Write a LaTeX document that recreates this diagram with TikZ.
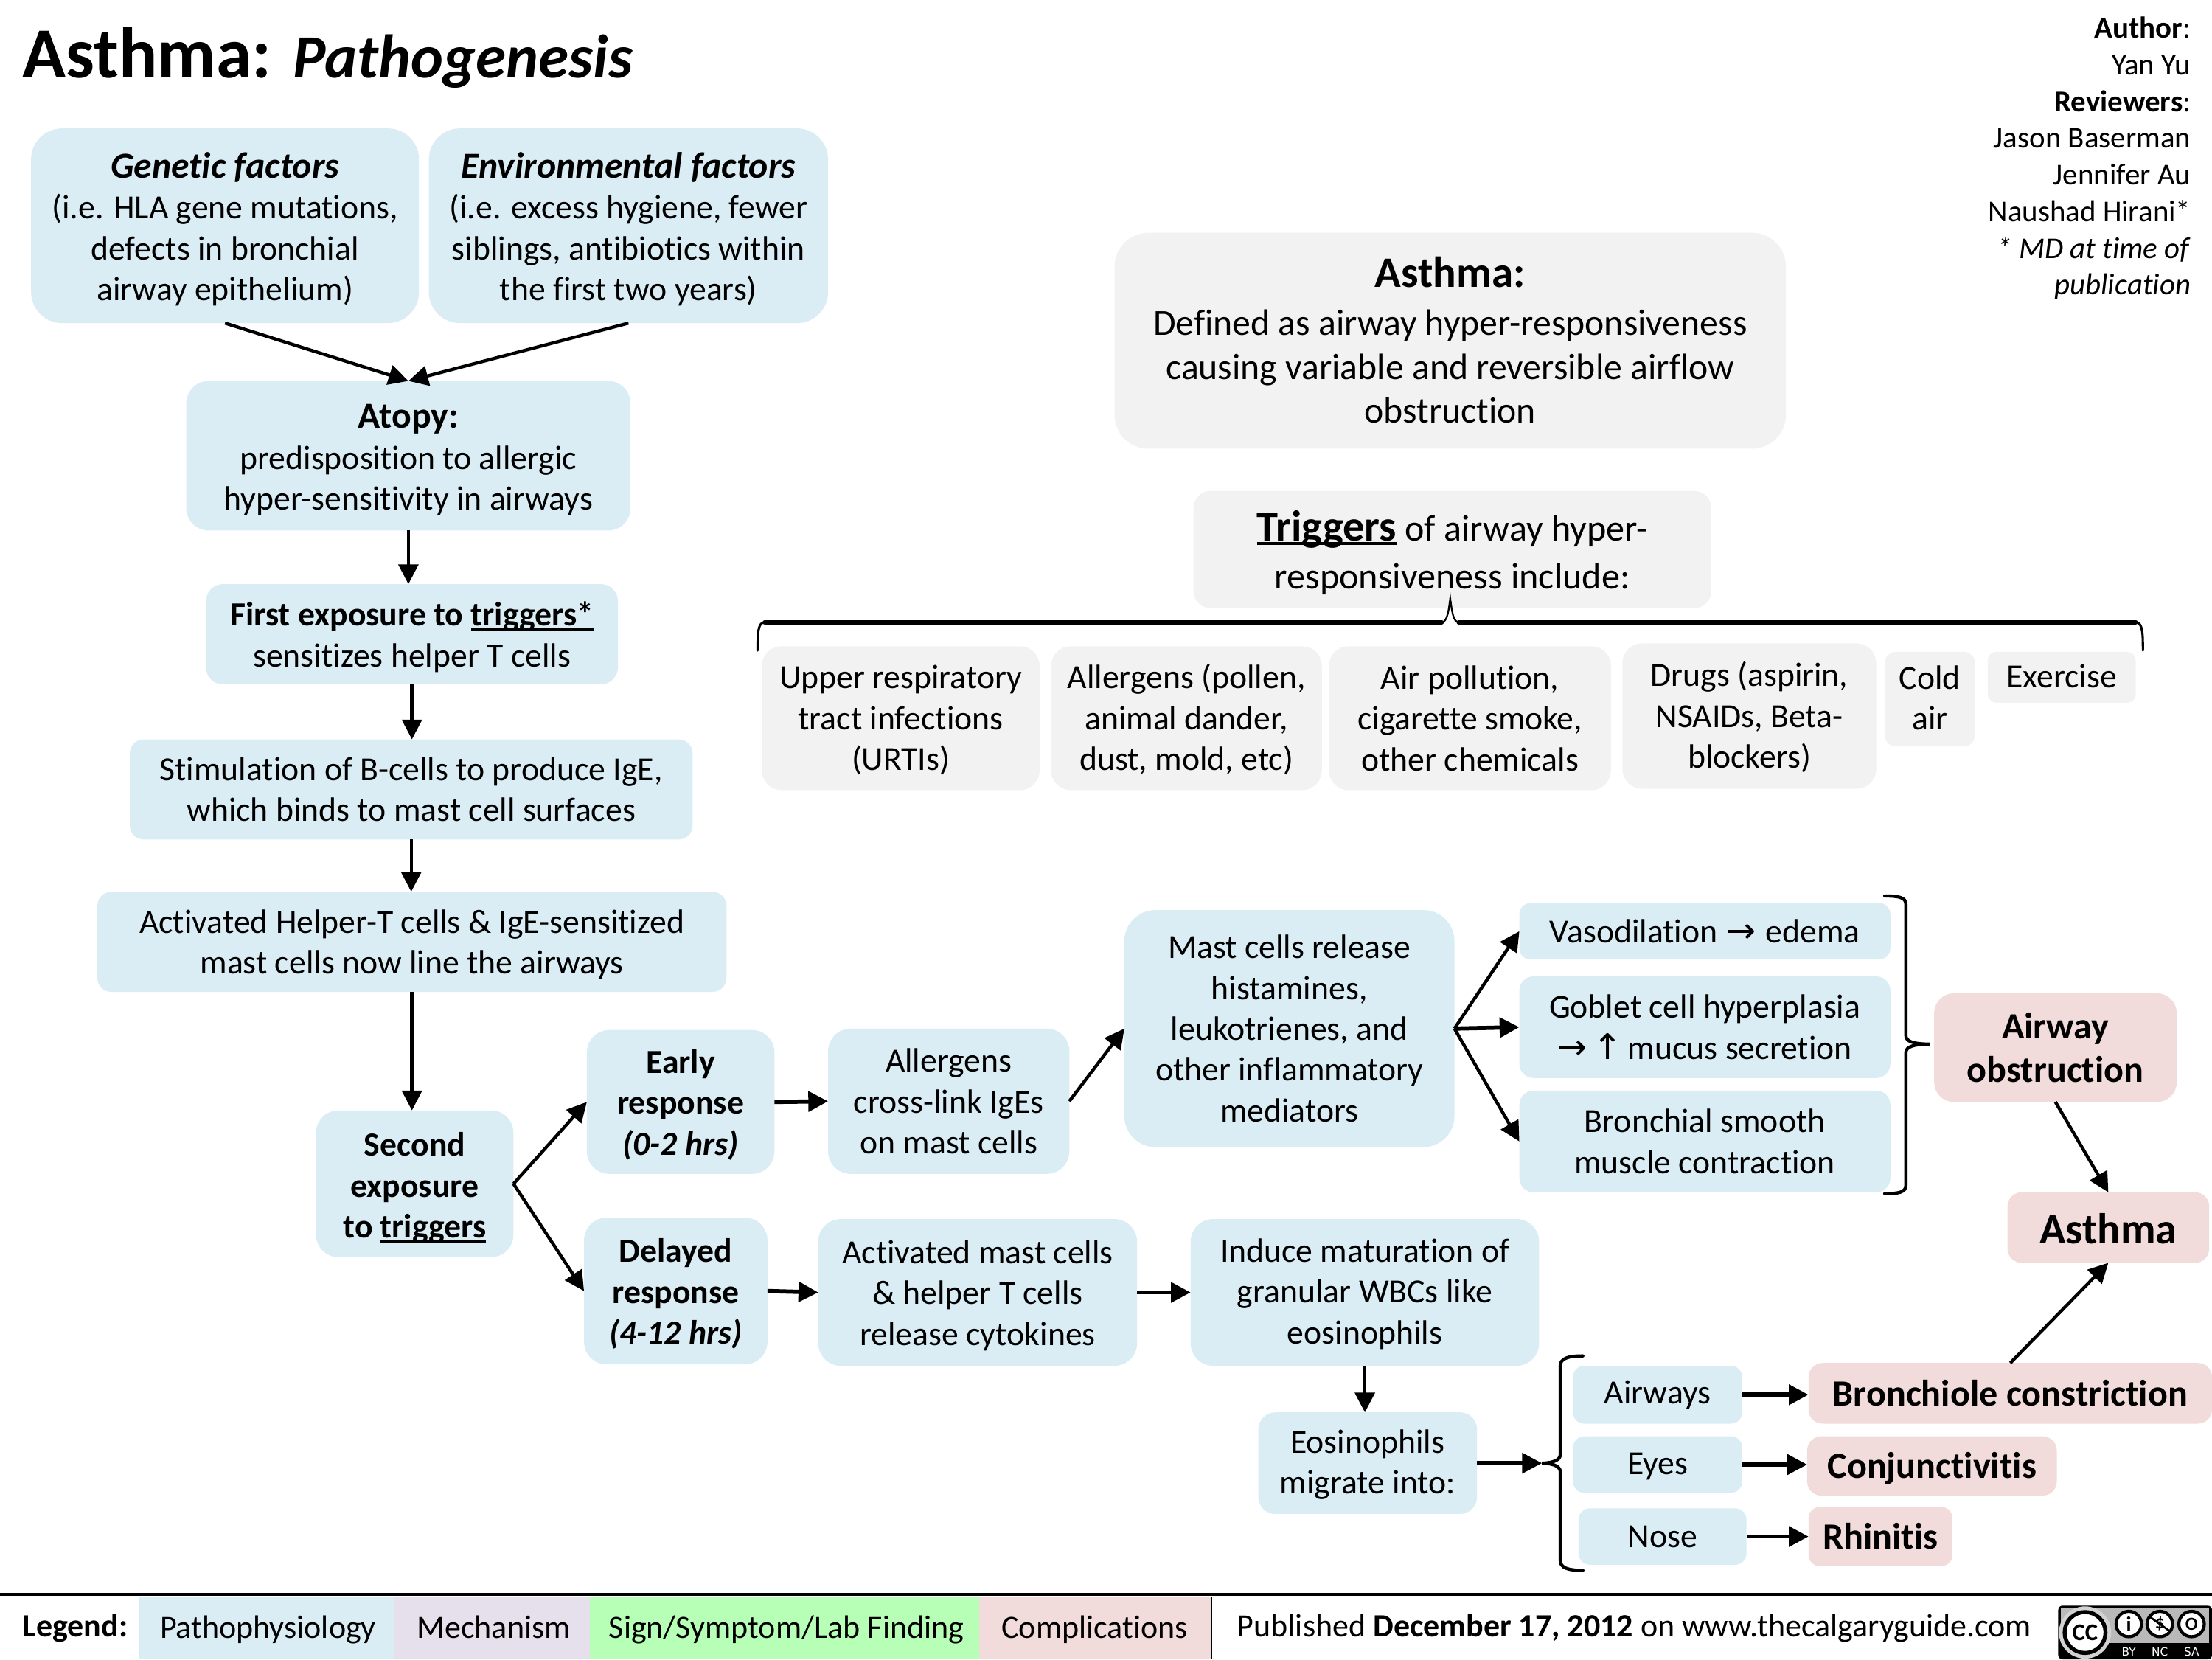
\documentclass[tikz,border=0pt]{standalone}
\usepackage{fontspec}
\setmainfont[Ligatures=NoCommon]{Carlito}
\newfontfamily\symfont{DejaVu Sans}
\usetikzlibrary{arrows.meta,calc}
\definecolor{cblue}{HTML}{DAEDF4}
\definecolor{cgrey}{HTML}{F2F2F2}
\definecolor{cred}{HTML}{F2DCDB}
\definecolor{cpurple}{HTML}{E6E0EC}
\definecolor{cgreen}{HTML}{B7FFB7}
\newcommand\fs[2]{\fontsize{#1}{#2}\selectfont}
\newcommand\myarrow{{\symfont\fontsize{25}{25}\selectfont →}}
\newcommand\myup{{\symfont\fontsize{25}{25}\selectfont ↑}}
\newcommand\ul[2][1.8pt]{{\setbox0\hbox{#2}\rlap{\rule[-3.2pt]{\wd0}{#1}}\box0}}
% optional #1 moves the text down inside its box
\newcommand\bx[8][0]{%
  \pgfmathsetmacro\bw{#6-#4}\pgfmathsetmacro\bh{#7-#5}%
  \node[#2,minimum width=\bw pt,minimum height=\bh pt] (#3) at (#4,#5) {};
  \node[#2,fill=none,anchor=center] (#3t) at ($(#3.center)+(0,#1)$) {#8};}
\tikzset{
  x=1pt,y=-1pt,
  boxbase/.style={anchor=north west,inner sep=0pt,outer sep=0pt,align=center,text=black,font=\fs{23.9}{29}},
  blue/.style={boxbase,fill=cblue,rounded corners=#1},
  blue/.default=16pt,
  grey/.style={boxbase,fill=cgrey,rounded corners=#1},
  grey/.default=14pt,
  redbox/.style={boxbase,fill=cred,rounded corners=#1,font=\fs{26.2}{31}\bfseries},
  redbox/.default=10pt,
  conn/.style={line width=2.3pt,draw=black,-{Triangle[length=14pt,width=14pt]}},
  connh/.style={conn,line width=3pt},
  brack/.style={line width=2.3pt,draw=black,line cap=round},
  plain/.style={inner sep=0pt,outer sep=0pt,text=black},
}
\begin{document}
\begin{tikzpicture}
\useasboundingbox (0,0) rectangle (1568,1176);
% Title and credits
\node[plain,anchor=base west] (title) at (16,55) {\fs{51}{55}\bfseries Asthma: \fs{43.6}{55}\itshape Pathogenesis};
\node[plain,anchor=north east,align=right,font=\fs{21.4}{26}] (credits) at (1553,12) {\textbf{Author}:\\Yan Yu\\\textbf{Reviewers}:\\Jason Baserman\\Jennifer Au\\Naushad Hirani*\\\textit{* MD at time of}\\\textit{publication}};
% Left column
\bx[2.5]{blue=22pt}{gen}{22}{91}{297}{229}{{\fs{26}{29}\bfseries\itshape Genetic factors}\\(i.e. HLA gene mutations,\\defects in bronchial\\airway epithelium)}
\bx[2.5]{blue=22pt}{env}{304}{91}{587}{229}{{\fs{26}{29}\bfseries\itshape Environmental factors}\\(i.e. excess hygiene, fewer\\siblings, antibiotics within\\the first two years)}
\bx[3]{blue}{atopy}{132}{270}{447}{376}{{\fs{26}{29}\bfseries Atopy:}\\predisposition to allergic\\hyper-sensitivity in airways}
\bx[2]{blue=12pt}{first}{146}{414}{438}{485}{\textbf{First exposure to \ul{triggers*}}\\sensitizes helper T cells}
\bx{blue=10pt}{stim}{92}{524}{491}{595}{Stimulation of B-cells to produce IgE,\\which binds to mast cell surfaces}
\bx[2]{blue=10pt}{activ}{69}{632}{515}{703}{Activated Helper-T cells \& IgE-sensitized\\mast cells now line the airways}
\bx[3]{blue}{second}{224}{787}{364}{891}{\textbf{Second}\\\textbf{exposure}\\\textbf{to \ul{triggers}}}
\bx[2]{blue}{early}{416}{730}{549}{832}{\textbf{Early}\\\textbf{response}\\\textbf{\textit{(0-2 hrs)}}}
\bx[2]{blue}{delayed}{414}{863}{544}{967}{\textbf{Delayed}\\\textbf{response}\\\textbf{\textit{(4-12 hrs)}}}
\bx{blue}{crosslink}{587}{729}{758}{832}{Allergens\\cross-link IgEs\\on mast cells}
\bx[2]{blue}{cytok}{580}{864}{806}{968}{Activated mast cells\\\& helper T cells\\release cytokines}
\bx[1]{blue}{induce}{844}{864}{1091}{968}{Induce maturation of\\granular WBCs like\\eosinophils}
\bx[1]{blue=12pt}{eos}{892}{1001}{1047}{1073}{Eosinophils\\migrate into:}
\bx{blue=22pt}{mast}{797}{645}{1031}{813}{Mast cells release\\histamines,\\leukotrienes, and\\other inflammatory\\mediators}
\bx{blue=8pt}{vaso}{1077}{640}{1340}{680}{Vasodilation\kern6pt\myarrow\kern7pt edema}
\bx{blue=10pt}{goblet}{1077}{692}{1340}{764}{Goblet cell hyperplasia\\\myarrow\,\myup\,mucus secretion}
\bx{blue=10pt}{bronch}{1077}{773}{1340}{845}{Bronchial smooth\\muscle contraction}
% Grey boxes
\bx[-0.5]{grey=24pt,font=\fs{26}{31}}{defn}{790}{165}{1266}{318}{{\fs{30.8}{36}\bfseries Asthma:}\\[3pt]Defined as airway hyper-responsiveness\\causing variable and reversible airflow\\obstruction}
\bx[2]{grey=12pt,font=\fs{26.2}{34}}{trig}{846}{348}{1213}{431}{{\fs{30.6}{34}\bfseries\ul[2.2pt]{Triggers}} of airway hyper-\\responsiveness include:}
\bx[1.5]{grey}{urti}{540}{458}{737}{560}{Upper respiratory\\tract infections\\(URTIs)}
\bx[1]{grey}{allerg}{745}{458}{937}{560}{Allergens (pollen,\\animal dander,\\dust, mold, etc)}
\bx{grey}{poll}{942}{458}{1142}{560}{Air pollution,\\cigarette smoke,\\other chemicals}
\bx[1]{grey}{drugs}{1150}{456}{1330}{559}{Drugs (aspirin,\\NSAIDs, Beta-\\blockers)}
\bx[-1]{grey=8pt}{cold}{1336}{462}{1400}{529}{Cold\\air}
\bx[-1]{grey=6pt}{exer}{1409}{462}{1514}{498}{Exercise}
% Target organs
\bx{blue=8pt}{airw}{1115}{968}{1235}{1009}{Airways}
\bx[1.5]{blue=8pt}{eyes}{1115}{1018}{1235}{1058}{Eyes}
\bx{blue=8pt}{nose}{1119}{1069}{1238}{1109}{Nose}
% Complications
\bx{redbox=14pt}{obstr}{1371}{704}{1543}{781}{Airway\\obstruction}
\bx[1]{redbox=10pt,font=\fs{30.6}{32}\bfseries}{asth}{1423}{845}{1566}{895}{Asthma}
\bx{redbox=10pt}{bronchi}{1282}{966}{1568}{1009}{Bronchiole constriction}
\bx[1.5]{redbox=10pt}{conj}{1281}{1018}{1458}{1060}{Conjunctivitis}
\bx{redbox=8pt}{rhin}{1282}{1068}{1384}{1110}{Rhinitis}
% Bracket coordinates
\coordinate (eostip) at (1093,1037);
\coordinate (obtip) at (1368,740);
\coordinate (trigtip) at (1028,424);
% Connectors
\draw[conn] (gen.south) -- (atopy.north);
\draw[conn] (env.south) -- (atopy.north);
\draw[conn] (atopy.south) -- (atopy.south |- first.north);
\draw[conn] (first.south) -- (first.south |- stim.north);
\draw[conn] (stim.south) -- (stim.south |- activ.north);
\draw[conn] (activ.south) -- (activ.south |- second.north);
\draw[conn] (second.east) -- (early.west);
\draw[conn] (second.east) -- (delayed.west);
\draw[connh] (early.east) -- (crosslink.west);
\draw[connh] (delayed.east) -- (cytok.west);
\draw[conn] (crosslink.east) -- (mast.west);
\draw[connh] (cytok.east) -- (induce.west);
\draw[conn] (induce.south) -- (induce.south |- eos.north);
\draw[conn] (mast.east) -- (vaso.west);
\draw[connh] (mast.east) -- (goblet.west);
\draw[conn] (mast.east) -- (bronch.west);
\draw[conn] (obstr.south) -- (asth.north);
\draw[conn] (bronchi.north) -- (asth.south);
\draw[connh] (eos.east) -- (eostip);
\draw[connh] (airw.east) -- (airw.east -| bronchi.west);
\draw[connh] (eyes.east) -- (eyes.east -| conj.west);
\draw[connh] (nose.east) -- (nose.east -| rhin.west);
% Braces
\draw[brack,line width=1.6pt] (537,461) .. controls (537,450) and (537,441) .. (542,441);
\draw[brack,line width=1.6pt] (1514,441) .. controls (1519,441) and (1519,450) .. (1519,461);
\draw[brack,line width=1.2pt] (1022,441) .. controls (1026,441) and (1027,432) .. (trigtip) .. controls (1029,432) and (1030,441) .. (1034,441);
\draw[brack,line width=3pt] (542,441) -- (1022,441) (1034,441) -- (1514,441);
\draw[brack] (1336,635) .. controls (1346,635) and (1351,636) .. (1351,641) -- (1351,734) .. controls (1351,738) and (1356,740) .. (obtip) .. controls (1356,740) and (1351,742) .. (1351,746) -- (1351,840) .. controls (1351,845) and (1346,846) .. (1336,846);
\draw[brack] (1122,961) .. controls (1111,961) and (1106,963) .. (1106,968) -- (1106,1031) .. controls (1106,1035) and (1100,1037) .. (eostip) .. controls (1100,1037) and (1106,1039) .. (1106,1043) -- (1106,1106) .. controls (1106,1111) and (1111,1113) .. (1122,1113);
% Legend
\fill[cblue] (99,1132) rectangle (279,1176);
\fill[cpurple] (279,1132) rectangle (418,1176);
\fill[cgreen] (418,1132) rectangle (694,1176);
\fill[cred] (694,1132) rectangle (859,1176);
\draw[line width=2.4pt] (0,1130) -- (1568,1130);
\draw[line width=1pt] (859,1132) -- (859,1176);
\node[plain,anchor=base west,font=\fs{23}{26}\bfseries] (leg) at (16,1160) {Legend:};
\node[plain,anchor=base,font=\fs{23}{26}] (leg1) at (190,1161) {Pathophysiology};
\node[plain,anchor=base,font=\fs{23}{26}] (leg2) at (350,1161) {Mechanism};
\node[plain,anchor=base,font=\fs{23}{26}] (leg3) at (557.5,1161) {Sign/Symptom/Lab Finding};
\node[plain,anchor=base,font=\fs{23}{26}] (leg4) at (776,1161) {Complications};
\node[plain,anchor=base west,font=\fs{23}{26}] (pub) at (877,1160) {Published \textbf{December 17, 2012} on www.thecalgaryguide.com};
% Licence badge
\fill[black,rounded corners=3pt] (1459,1138) rectangle (1568,1176);
\fill[gray!55] (1461,1140) rectangle (1566,1164.5);
\fill[gray!35] (1478,1157) circle (18.5);
\fill[white,draw=black,line width=2.8pt] (1478,1157) circle (14.5);
\node[plain,font=\fs{17}{17}\bfseries] (cc) at (1478,1157) {CC};
\fill[white,draw=black,line width=2.2pt] (1509,1151) circle (9);
\fill[white,draw=black,line width=2.2pt] (1531,1151) circle (9);
\fill[white,draw=black,line width=2.2pt] (1553.5,1151) circle (9);
\node[plain,font=\fs{15}{15}\bfseries] (ccby) at (1509,1151) {i};
\node[plain,font=\fs{13}{13}\bfseries] (ccnc) at (1531,1151) {\$};
\draw[line width=1.4pt] (1524,1146) -- (1538,1156);
\node[plain,font=\fs{13}{13}\bfseries] (ccsa) at (1553.5,1151) {O};
\node[plain,text=white,font=\symfont\fs{8}{8}] (ccb) at (1509,1170.5) {BY};
\node[plain,text=white,font=\symfont\fs{8}{8}] (ccn) at (1531,1170.5) {NC};
\node[plain,text=white,font=\symfont\fs{8}{8}] (ccs) at (1553.5,1170.5) {SA};
\end{tikzpicture}
\end{document}
